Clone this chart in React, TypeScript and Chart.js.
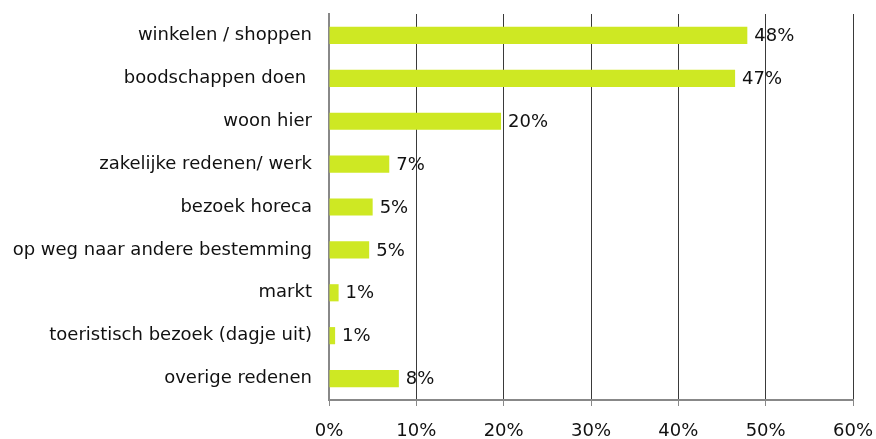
import React, { useEffect, useRef } from "react";
import { Chart, registerables } from "chart.js";

Chart.register(...registerables);

const categories = [
  "winkelen / shoppen",
  "boodschappen doen ",
  "woon hier",
  "zakelijke redenen/ werk",
  "bezoek horeca",
  "op weg naar andere bestemming",
  "markt",
  "toeristisch bezoek (dagje uit)",
  "overige redenen",
];
const values = [47.9, 46.5, 19.7, 6.9, 5.0, 4.6, 1.1, 0.7, 8.0];
const valueLabels = ["48%", "47%", "20%", "7%", "5%", "5%", "1%", "1%", "8%"];
const xTicks = [0, 10, 20, 30, 40, 50, 60];

const FONT = "'DejaVu Sans', sans-serif";
const FONT_SIZE = 18;

const valueLabelPlugin = {
  id: "valueLabels",
  afterDatasetsDraw(chart: any) {
    const ctx = chart.ctx;
    const meta = chart.getDatasetMeta(0);
    ctx.save();
    ctx.font = `${FONT_SIZE}px ${FONT}`;
    ctx.fillStyle = "#111";
    ctx.textAlign = "left";
    ctx.textBaseline = "middle";
    meta.data.forEach((bar: any, i: number) => {
      ctx.fillText(valueLabels[i], bar.x + 7, bar.y + 1);
    });
    ctx.restore();
  },
};

export default function App() {
  const ref = useRef<HTMLCanvasElement | null>(null);
  useEffect(() => {
    if (!ref.current) return;
    const chart = new Chart(ref.current, {
      type: "bar",
      data: {
        labels: categories,
        datasets: [
          {
            data: values,
            backgroundColor: "#cee823",
            barPercentage: 0.4,
            categoryPercentage: 1.0,
          },
        ],
      },
      options: {
        indexAxis: "y",
        animation: false,
        responsive: true,
        maintainAspectRatio: false,
        layout: { padding: { top: 14, right: 23, left: 0, bottom: 0 } },
        plugins: { legend: { display: false }, tooltip: { enabled: false } },
        scales: {
          x: {
            min: 0,
            max: 60,
            afterBuildTicks: (scale: any) => {
              scale.ticks = xTicks.map((v) => ({ value: v }));
            },
            afterFit: (scale: any) => {
              scale.paddingLeft = 0;
              scale.paddingRight = 0;
              scale.height = 39;
            },
            ticks: {
              callback: (v: any) => `${v}%`,
              color: "#111",
              font: { family: FONT, size: FONT_SIZE, lineHeight: 1 },
              padding: 16,
              maxRotation: 0,
            },
            grid: { color: "#3a3a3a", lineWidth: 1, tickLength: 6, tickColor: "#888" },
            border: { color: "#888", width: 2 },
          },
          y: {
            afterFit: (scale: any) => {
              scale.width = 329;
              scale.paddingTop = 0;
              scale.paddingBottom = 0;
            },
            ticks: {
              color: "#111",
              font: { family: FONT, size: FONT_SIZE },
              padding: 17,
            },
            grid: { display: false, drawTicks: false },
            border: { display: true, color: "#888", width: 2 },
          },
        },
      },
      plugins: [valueLabelPlugin],
    });
    return () => chart.destroy();
  }, []);
  return (
    <div style={{ position: "absolute", left: 0, top: 0, width: 876, height: 439 }}>
      <canvas ref={ref} />
    </div>
  );
}
